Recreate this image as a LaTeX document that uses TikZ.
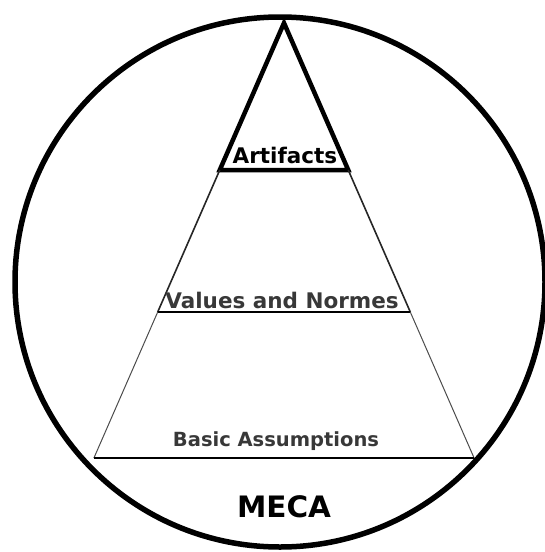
\documentclass[tikz,border=0pt]{standalone}
\usepackage{fontspec}
\setmainfont{DejaVu Sans}
\usetikzlibrary{calc, positioning}

\begin{document}
\begin{tikzpicture}[x=1pt, y=-1pt]

	% -------------------------------------------------------------------------
	% 1. Parameters (pixel units, y downwards)
	% -------------------------------------------------------------------------
	\def\Cx{280}     % circle centre x
	\def\Cy{282}     % circle centre y
	\def\R{265}      % circle radius
	\def\Apex{23}    % apex height
	\def\Slope{0.437} % half width per unit of height
	\useasboundingbox (0,0) rectangle (545,552);

	\tikzset{
		layerlabel/.style={font=\bfseries\fontsize{21.5}{23}\selectfont, inner sep=0pt},
		softlabel/.style={layerlabel, text=black!78},
	}

	% -------------------------------------------------------------------------
	% 2. Outer circle
	% -------------------------------------------------------------------------
	\draw[line width=5.5pt] (\Cx,\Cy) circle (\R);

	% -------------------------------------------------------------------------
	% 3. Pyramid key points
	% -------------------------------------------------------------------------
	\coordinate (Top)  at (284, \Apex);
	\coordinate (ArtL) at ({284-\Slope*(170-\Apex)}, 170);
	\coordinate (ArtR) at ({284+\Slope*(170-\Apex)}, 170);
	\coordinate (ValL) at ({284-\Slope*(312-\Apex)}, 312);
	\coordinate (ValR) at ({284+\Slope*(312-\Apex)}, 312);
	\coordinate (BasL) at ({284-\Slope*(458-\Apex)}, 458);
	\coordinate (BasR) at ({284+\Slope*(458-\Apex)}, 458);

	% top layer (thick)
	\draw[line width=4.5pt, line join=miter] (ArtL) -- (Top) -- (ArtR) -- cycle;
	% middle layer
	\draw[line width=1.6pt, black!85] (ArtL) -- (ValL);
	\draw[line width=1.6pt, black!85] (ArtR) -- (ValR);
	\draw[line width=2.2pt] (ValL) -- (ValR);
	% bottom layer
	\draw[line width=1pt, black!70] (ValL) -- (BasL);
	\draw[line width=1pt, black!70] (ValR) -- (BasR);
	\draw[line width=1.6pt] (BasL) -- (BasR);

	% -------------------------------------------------------------------------
	% 4. Labels
	% -------------------------------------------------------------------------
	\node[layerlabel] (artifacts) at (285,155) {Artifacts};
	\node[softlabel] (values) at (282,300) {Values and Normes};
	\node[softlabel, font=\bfseries\fontsize{19.5}{21}\selectfont] (basic) at (276,441) {Basic Assumptions};
	\node[layerlabel, font=\bfseries\fontsize{29.5}{31}\selectfont] (meca) at (284,507) {MECA};

\end{tikzpicture}
\end{document}
